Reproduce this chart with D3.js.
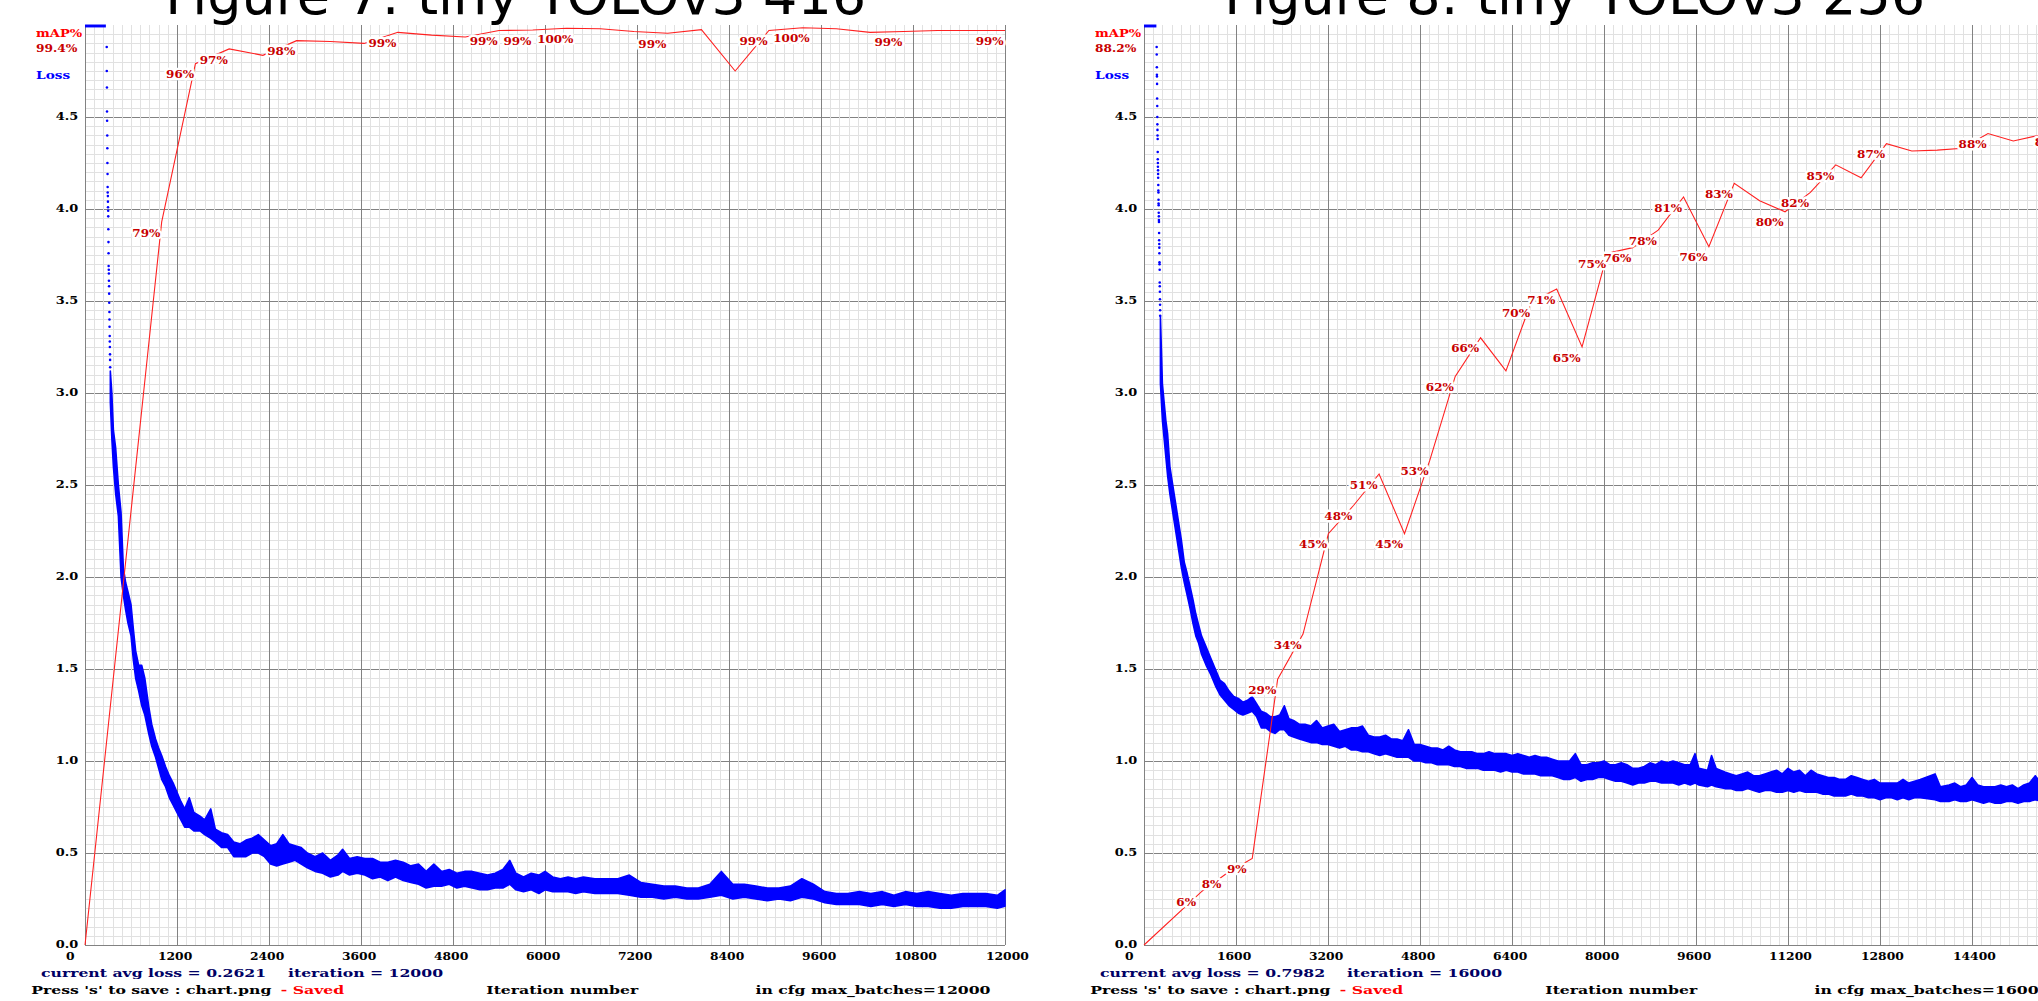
<!DOCTYPE html>
<html>
<head>
<meta charset="utf-8">
<script src="https://cdn.jsdelivr.net/npm/d3@7"></script>
<style>
body { margin: 0; background: #fff; }
svg { display: block; }
.cv { font-family: "DejaVu Serif", serif; font-size: 12px; font-weight: bold; }
</style>
</head>
<body>
<div id="figure"></div>
<script>
const width = 2038
const height = 1001

// ---- Figure 7: tiny YOLOv3 416 ----
const leftTitle = "Figure 7: tiny YOLOv3 416"
const leftMaxBatches = 12000
const leftAvgLoss = "0.2621"
const leftBestMap = "99.4%"
// iterations where avg loss was above the 5.0 chart top (pinned to the top edge)
const leftOverflow = [0, 272]
// first sparse loss dots while the loss falls through the top of the chart
const leftDotIter = [283, 284, 286, 287, 288, 290, 291, 292, 294, 295, 296, 298, 299, 300, 302, 303, 304, 306, 307, 308,
  310, 311, 312, 314, 315, 316, 318, 319, 320, 322, 323, 324, 326, 327, 328]
const leftDotLoss = [4.88, 4.75, 4.66, 4.53, 4.48, 4.40, 4.33, 4.25, 4.19, 4.12, 4.09, 4.07, 4.04, 4.01, 3.99, 3.96, 3.89, 3.82, 3.76, 3.69,
  3.67, 3.65, 3.61, 3.58, 3.54, 3.49, 3.44, 3.40, 3.36, 3.31, 3.28, 3.25, 3.21, 3.18, 3.14]
// dense loss band: iteration, lowest and highest avg loss around it
const leftBandIter = [330, 350, 370, 400, 435, 470, 500, 530, 560, 600,
  630, 660, 700, 740, 780, 830, 870, 920, 960, 1000,
  1050, 1100, 1150, 1200, 1250, 1300, 1360, 1420, 1500, 1560,
  1640, 1700, 1780, 1860, 1940, 2020, 2100, 2180, 2260, 2340,
  2420, 2500, 2580, 2660, 2740, 2820, 2900, 3000, 3100, 3200,
  3300, 3360, 3450, 3550, 3650, 3750, 3850, 3950, 4050, 4150,
  4250, 4350, 4450, 4550, 4650, 4750, 4850, 4950, 5050, 5150,
  5250, 5350, 5450, 5540, 5620, 5720, 5820, 5920, 6000, 6100,
  6200, 6300, 6400, 6500, 6650, 6800, 6950, 7100, 7250, 7400,
  7550, 7700, 7850, 8000, 8150, 8300, 8450, 8600, 8750, 8900,
  9050, 9200, 9350, 9500, 9650, 9800, 9950, 10100, 10250, 10400,
  10550, 10700, 10850, 11000, 11150, 11300, 11450, 11600, 11750, 11900,
  12000]
const leftBandLo = [2.95, 2.75, 2.6, 2.45, 2.33, 2.0, 1.9, 1.82, 1.75, 1.68,
  1.55, 1.45, 1.38, 1.3, 1.25, 1.15, 1.08, 1.02, 0.96, 0.9,
  0.86, 0.8, 0.76, 0.72, 0.68, 0.64, 0.64, 0.62, 0.62, 0.6,
  0.58, 0.56, 0.53, 0.53, 0.48, 0.48, 0.48, 0.5, 0.5, 0.48,
  0.44, 0.43, 0.44, 0.45, 0.46, 0.44, 0.42, 0.4, 0.39, 0.37,
  0.38, 0.4, 0.38, 0.39, 0.38, 0.36, 0.37, 0.35, 0.37, 0.35,
  0.34, 0.33, 0.31, 0.32, 0.32, 0.33, 0.31, 0.32, 0.31, 0.3,
  0.3, 0.31, 0.31, 0.33, 0.3, 0.29, 0.3, 0.28, 0.3, 0.29,
  0.29, 0.29, 0.28, 0.29, 0.28, 0.28, 0.28, 0.27, 0.26, 0.26,
  0.25, 0.26, 0.25, 0.25, 0.26, 0.27, 0.25, 0.26, 0.25, 0.24,
  0.25, 0.24, 0.26, 0.25, 0.23, 0.22, 0.22, 0.22, 0.21, 0.22,
  0.21, 0.22, 0.21, 0.21, 0.2, 0.2, 0.21, 0.21, 0.21, 0.2,
  0.21]
const leftBandHi = [3.12, 3.0, 2.8, 2.7, 2.5, 2.35, 2.05, 1.97, 1.92, 1.85,
  1.72, 1.6, 1.52, 1.52, 1.45, 1.3, 1.2, 1.12, 1.07, 1.03,
  0.97, 0.92, 0.88, 0.83, 0.78, 0.74, 0.8, 0.72, 0.7, 0.68,
  0.74, 0.63, 0.61, 0.6, 0.56, 0.55, 0.57, 0.58, 0.6, 0.57,
  0.54, 0.55, 0.6, 0.55, 0.54, 0.53, 0.5, 0.48, 0.5, 0.46,
  0.49, 0.52, 0.47, 0.48, 0.47, 0.47, 0.45, 0.45, 0.46, 0.45,
  0.43, 0.44, 0.4, 0.44, 0.4, 0.41, 0.39, 0.4, 0.4, 0.39,
  0.38, 0.39, 0.41, 0.46, 0.39, 0.37, 0.39, 0.38, 0.4, 0.37,
  0.36, 0.37, 0.36, 0.37, 0.36, 0.36, 0.36, 0.38, 0.34, 0.33,
  0.32, 0.32, 0.31, 0.31, 0.33, 0.4, 0.33, 0.33, 0.32, 0.31,
  0.31, 0.32, 0.36, 0.33, 0.29, 0.28, 0.28, 0.29, 0.28, 0.29,
  0.27, 0.29, 0.28, 0.29, 0.28, 0.27, 0.28, 0.28, 0.28, 0.27,
  0.3]
// mAP checks (the line starts at the chart origin)
const leftMapIter = [0, 1000, 1440, 1880, 2320, 2760, 3200, 3640, 4080, 4520, 4960, 5400, 5840, 6280,
  6720, 7160, 7600, 8040, 8480, 8920, 9360, 9800, 10240, 10680, 11120, 11560, 12000]
const leftMap = [0, 0.786, 0.958, 0.974, 0.967, 0.983, 0.982, 0.980, 0.992, 0.989, 0.987, 0.994, 0.9945, 0.9965,
  0.996, 0.993, 0.991, 0.995, 0.950, 0.994, 0.997, 0.996, 0.992, 0.993, 0.994, 0.994, 0.994]
const leftMapLabelIter = [1000, 1440, 1880, 2760, 4080, 5400, 5840, 6280, 7600, 8920, 9360, 10680, 12000]

// ---- Figure 8: tiny YOLOv3 256 ----
const rightTitle = "Figure 8: tiny YOLOv3 256"
const rightMaxBatches = 16000
const rightAvgLoss = "0.7982"
const rightBestMap = "88.2%"
const rightOverflow = [0, 215]
const rightDotIter = [220, 221, 223, 224, 225, 227, 228, 230, 231, 232, 234, 235, 237, 238, 239,
  241, 242, 244, 245, 246, 248, 249, 251, 252, 253, 255, 256, 258, 259, 260,
  262, 263, 265, 266, 267, 269, 270, 272, 273, 274, 276, 277, 279, 280, 281]
const rightDotLoss = [4.88, 4.84, 4.77, 4.73, 4.72, 4.68, 4.60, 4.56, 4.50, 4.46, 4.43, 4.40, 4.38, 4.31, 4.27,
  4.25, 4.23, 4.21, 4.19, 4.17, 4.13, 4.10, 4.09, 4.05, 4.03, 4.02, 3.98, 3.96, 3.94, 3.93,
  3.87, 3.83, 3.81, 3.79, 3.76, 3.71, 3.70, 3.67, 3.60, 3.58, 3.55, 3.51, 3.48, 3.45, 3.42]
const rightBandIter = [285, 320, 350, 380, 410, 450, 500, 550, 600, 650,
  700, 750, 800, 850, 900, 950, 1000, 1080, 1160, 1240,
  1320, 1400, 1480, 1560, 1640, 1720, 1800, 1880, 1960, 2040,
  2120, 2200, 2280, 2360, 2440, 2520, 2600, 2700, 2800, 2900,
  3000, 3100, 3200, 3300, 3400, 3500, 3600, 3700, 3800, 3900,
  4000, 4100, 4200, 4300, 4400, 4500, 4600, 4700, 4800, 4900,
  5000, 5100, 5200, 5300, 5400, 5500, 5600, 5700, 5800, 5900,
  6000, 6100, 6200, 6300, 6400, 6500, 6600, 6700, 6800, 6900,
  7000, 7100, 7200, 7300, 7400, 7500, 7600, 7700, 7800, 7900,
  8000, 8100, 8200, 8300, 8400, 8500, 8600, 8700, 8800, 8900,
  9000, 9100, 9200, 9300, 9400, 9500, 9583, 9650, 9800, 9870,
  9950, 10100, 10200, 10300, 10400, 10500, 10600, 10700, 10800, 10900,
  11000, 11100, 11200, 11300, 11400, 11500, 11600, 11700, 11800, 11900,
  12000, 12100, 12200, 12300, 12400, 12500, 12600, 12700, 12800, 12900,
  13000, 13100, 13200, 13300, 13400, 13500, 13757, 13850, 14000, 14100,
  14200, 14300, 14400, 14500, 14600, 14700, 14800, 14900, 15000, 15100,
  15200, 15300, 15400, 15500, 15600, 15800, 16000]
const rightBandLo = [3.05, 2.85, 2.75, 2.65, 2.55, 2.45, 2.35, 2.25, 2.15, 2.05,
  1.97, 1.9, 1.83, 1.75, 1.68, 1.64, 1.58, 1.52, 1.47, 1.41,
  1.36, 1.33, 1.3, 1.28, 1.26, 1.25, 1.26, 1.27, 1.24, 1.18,
  1.18, 1.16, 1.15, 1.17, 1.17, 1.14, 1.13, 1.12, 1.11, 1.1,
  1.1, 1.09, 1.09, 1.08, 1.07, 1.08, 1.06, 1.06, 1.05, 1.05,
  1.04, 1.03, 1.04, 1.03, 1.02, 1.02, 1.02, 1.0, 1.0, 0.99,
  0.99, 0.98, 0.98, 0.98, 0.97, 0.97, 0.96, 0.96, 0.96, 0.95,
  0.95, 0.95, 0.94, 0.95, 0.94, 0.94, 0.93, 0.93, 0.93, 0.92,
  0.92, 0.92, 0.91, 0.9, 0.9, 0.91, 0.89, 0.9, 0.9, 0.91,
  0.91, 0.9, 0.89, 0.89, 0.88, 0.87, 0.88, 0.88, 0.89, 0.89,
  0.88, 0.88, 0.88, 0.87, 0.88, 0.87, 0.88, 0.87, 0.86, 0.87,
  0.86, 0.85, 0.85, 0.84, 0.84, 0.85, 0.84, 0.83, 0.84, 0.84,
  0.83, 0.83, 0.84, 0.83, 0.84, 0.83, 0.83, 0.83, 0.82, 0.82,
  0.81, 0.81, 0.81, 0.82, 0.81, 0.81, 0.8, 0.8, 0.79, 0.8,
  0.8, 0.79, 0.8, 0.79, 0.8, 0.8, 0.79, 0.78, 0.78, 0.79,
  0.78, 0.78, 0.79, 0.78, 0.77, 0.78, 0.77, 0.77, 0.78, 0.78,
  0.77, 0.78, 0.78, 0.79, 0.78, 0.78, 0.79]
const rightBandHi = [3.42, 3.05, 2.95, 2.85, 2.78, 2.6, 2.5, 2.4, 2.3, 2.2,
  2.08, 2.02, 1.95, 1.88, 1.8, 1.74, 1.68, 1.62, 1.56, 1.5,
  1.44, 1.42, 1.38, 1.35, 1.34, 1.32, 1.33, 1.35, 1.31, 1.27,
  1.26, 1.24, 1.24, 1.25, 1.3, 1.23, 1.22, 1.2, 1.2, 1.19,
  1.22, 1.18, 1.19, 1.2, 1.16, 1.17, 1.18, 1.18, 1.19, 1.14,
  1.13, 1.13, 1.14, 1.12, 1.12, 1.11, 1.17, 1.09, 1.09, 1.08,
  1.07, 1.07, 1.06, 1.08, 1.06, 1.05, 1.05, 1.05, 1.04, 1.04,
  1.05, 1.04, 1.04, 1.04, 1.03, 1.04, 1.03, 1.02, 1.03, 1.02,
  1.02, 1.01, 1.0, 1.0, 1.0, 1.04, 0.98, 0.98, 0.99, 0.99,
  1.0, 0.98, 0.98, 0.99, 0.98, 0.96, 0.96, 0.97, 0.99, 0.98,
  1.0, 0.99, 1.0, 0.99, 0.98, 0.98, 1.04, 0.96, 0.95, 1.03,
  0.96, 0.94, 0.93, 0.92, 0.93, 0.94, 0.92, 0.92, 0.93, 0.94,
  0.95, 0.93, 0.96, 0.94, 0.95, 0.92, 0.95, 0.93, 0.92, 0.91,
  0.91, 0.9, 0.9, 0.92, 0.91, 0.9, 0.89, 0.9, 0.88, 0.88,
  0.88, 0.88, 0.9, 0.88, 0.89, 0.9, 0.93, 0.86, 0.87, 0.88,
  0.86, 0.87, 0.91, 0.87, 0.86, 0.86, 0.86, 0.87, 0.86, 0.87,
  0.85, 0.87, 0.88, 0.92, 0.88, 0.87, 0.86]
const rightMapIter = [0, 1000, 1441, 1882, 2324, 2765, 3206, 3647, 4088, 4530, 4971, 5412, 5853, 6294,
  6736, 7177, 7618, 8059, 8500, 8942, 9383, 9824, 10265, 10706, 11148, 11589, 12030, 12471,
  12912, 13353, 13795, 14236, 14677, 15118, 15559, 16000]
const rightMap = [0, 0.058, 0.078, 0.094, 0.289, 0.338, 0.447, 0.478, 0.512, 0.447, 0.527, 0.618, 0.660, 0.624,
  0.699, 0.713, 0.650, 0.752, 0.758, 0.777, 0.813, 0.759, 0.828, 0.809, 0.797, 0.818, 0.848, 0.834,
  0.871, 0.863, 0.864, 0.866, 0.882, 0.874, 0.880, 0.884]
const rightMapLabelIter = [1000, 1441, 1882, 2324, 2765, 3206, 3647, 4088, 4530, 4971, 5412, 5853,
  6736, 7177, 7618, 8059, 8500, 8942, 9383, 9824, 10265, 11148, 11589, 12030, 12912, 14677, 16000]

// darknet chart.png geometry (1000px image, 60px offset), scaled into the figure
const imgSize = 1000
const imgOffset = 60
const drawSize = imgSize - imgOffset
const nLines = 100
const figScale = 920 / drawSize

const svg = d3.select("#figure").append("svg").attr("width", width).attr("height", height)
svg.append("rect").attr("width", width).attr("height", height).attr("fill", "#fff")

drawChart({
  left: 26.3, top: 25, title: leftTitle, maxBatches: leftMaxBatches, avgLoss: leftAvgLoss, bestMap: leftBestMap,
  overflow: leftOverflow, dotIter: leftDotIter, dotLoss: leftDotLoss,
  bandIter: leftBandIter, bandLo: leftBandLo, bandHi: leftBandHi,
  mapIter: leftMapIter, map: leftMap, labelIter: leftMapLabelIter
})
drawChart({
  left: 1085.3, top: 25, title: rightTitle, maxBatches: rightMaxBatches, avgLoss: rightAvgLoss, bestMap: rightBestMap,
  overflow: rightOverflow, dotIter: rightDotIter, dotLoss: rightDotLoss,
  bandIter: rightBandIter, bandLo: rightBandLo, bandHi: rightBandHi,
  mapIter: rightMapIter, map: rightMap, labelIter: rightMapLabelIter
})

// the chart font is wide: widen each text by k
function widen(sel, k) {
  sel.each(function () {
    const w = this.getComputedTextLength()
    d3.select(this).attr("textLength", w * k).attr("lengthAdjust", "spacingAndGlyphs")
  })
  return sel
}

function drawChart(c) {
  const maxLoss = 5
  const g = svg.append("g").attr("transform", `translate(${c.left},${c.top}) scale(${figScale})`)
  const x = d3.scaleLinear().domain([0, c.maxBatches]).range([imgOffset, imgSize])
  const yLoss = d3.scaleLinear().domain([0, maxLoss]).range([drawSize, 0]).clamp(true)
  const yMap = d3.scaleLinear().domain([0, 1]).range([drawSize, 0])

  // grid: horizontal lines first, then vertical ones (same order as darknet)
  const lossMinor = d3.range(1, nLines + 1).map(i => maxLoss * (nLines - i) / nLines)
  const lossMajor = lossMinor.filter((d, i) => (i + 1) % 10 === 0)
  const iterMinor = d3.range(0, nLines + 1).map(i => c.maxBatches * i / nLines)
  const iterMajor = iterMinor.filter((d, i) => i % 10 === 0)

  const gridY = vals => g.append("g")
    .attr("transform", `translate(${imgOffset},0)`)
    .call(d3.axisLeft(yLoss).tickValues(vals).tickSize(-(imgSize - imgOffset)).tickSizeOuter(0).tickFormat(d3.format(".1f")))
  const gridX = vals => g.append("g")
    .attr("transform", `translate(0,${drawSize})`)
    .call(d3.axisBottom(x).tickValues(vals).tickSize(-drawSize).tickSizeOuter(0).tickFormat(d3.format("d")))

  const ym = gridY(lossMinor)
  ym.selectAll("text").remove()
  const yM = gridY(lossMajor)
  const xm = gridX(iterMinor)
  xm.selectAll("text").remove()
  const xM = gridX(iterMajor)
  ;[ym, yM, xm, xM].forEach(a => {
    a.select(".domain").remove()
    a.attr("font-family", null).attr("font-size", null)
    a.selectAll("line").attr("stroke-width", 1).attr("shape-rendering", "crispEdges")
  })
  ym.selectAll("line").attr("stroke", "#e0e0e0")
  xm.selectAll("line").attr("stroke", "#e0e0e0")
  yM.selectAll("line").attr("stroke", "#808080")
  xM.selectAll("line").attr("stroke", "#808080")
  widen(yM.selectAll("text").attr("class", "cv").attr("fill", "#000")
    .attr("text-anchor", "start").attr("x", 30 - imgOffset).attr("dy", null).attr("y", 3), 1.1)
  widen(xM.selectAll("text").attr("class", "cv").attr("fill", "#000")
    .attr("text-anchor", "start").attr("x", -20).attr("dy", null).attr("y", 15), 1.05)

  // loss: values above the top are pinned to y = 1
  g.append("line")
    .attr("x1", x(c.overflow[0])).attr("x2", x(c.overflow[1]))
    .attr("y1", 1).attr("y2", 1)
    .attr("stroke", "#0000ff").attr("stroke-width", 3)
  g.append("g").selectAll("circle").data(d3.range(c.dotIter.length)).join("circle")
    .attr("cx", i => x(c.dotIter[i])).attr("cy", i => yLoss(c.dotLoss[i]))
    .attr("r", 1.3).attr("fill", "#0000ff")
  const band = d3.area()
    .x(i => x(c.bandIter[i]))
    .y0(i => yLoss(c.bandLo[i]))
    .y1(i => yLoss(c.bandHi[i]))
  g.append("path").datum(d3.range(c.bandIter.length))
    .attr("d", band)
    .attr("fill", "#0000ff").attr("stroke", "#0000ff").attr("stroke-width", 1.6)
    .attr("stroke-linejoin", "round")

  // mAP line and labels
  const mapLine = d3.line().x(i => x(c.mapIter[i])).y(i => yMap(c.map[i]))
  g.append("path").datum(d3.range(c.mapIter.length))
    .attr("d", mapLine)
    .attr("fill", "none").attr("stroke", "#ff2020").attr("stroke-width", 1.1)
  const labelled = d3.range(c.mapIter.length).filter(i => c.labelIter.includes(c.mapIter[i]))
  const labels = g.append("g").selectAll("text").data(labelled).join("text")
    .attr("class", "cv")
    .attr("x", i => x(c.mapIter[i]) - 30)
    .attr("y", i => yMap(c.map[i]) + 15)
    .attr("fill", "rgb(200,0,0)")
    .attr("stroke", "#fff").attr("stroke-width", 5).attr("stroke-linejoin", "round")
    .attr("paint-order", "stroke")
    .attr("xml:space", "preserve")
    .text(i => String(Math.round(c.map[i] * 100)).padStart(2, " ") + "%")
  widen(labels, 1.02)

  // legend texts at the top left
  const txt = (s, tx, ty, color, k) => widen(g.append("text").attr("class", "cv")
    .attr("x", tx).attr("y", ty).attr("fill", color).attr("xml:space", "preserve").text(s), k)
  txt("mAP%", 10, 12, "rgb(255,0,0)", 1.11)
  txt(c.bestMap, 10, 28, "rgb(200,0,0)", 1.04)
    .attr("stroke", "#fff").attr("stroke-width", 5).attr("stroke-linejoin", "round").attr("paint-order", "stroke")
  txt("Loss", 10, 55, "rgb(0,0,255)", 1.16)

  // status lines below the chart
  txt(`current avg loss = ${c.avgLoss}    iteration = ${c.maxBatches}`, 15, drawSize + 33, "rgb(0,0,100)", 1.335)
  txt("Press 's' to save : chart.png", 5, imgSize - 10, "#000", 1.335)
  txt("- Saved", 260, imgSize - 10, "rgb(255,0,0)", 1.335)
  txt("Iteration number", drawSize / 2, imgSize - 10, "#000", 1.335)
  txt(`in cfg max_batches=${c.maxBatches}`, drawSize - 195, imgSize - 10, "#000", 1.335)

  // figure caption above, mostly cut off by the page top
  svg.append("text")
    .attr("x", c.left + imgSize * figScale / 2).attr("y", 14)
    .attr("text-anchor", "middle")
    .attr("font-family", "DejaVu Sans, sans-serif").attr("font-size", 54)
    .attr("fill", "#000")
    .text(c.title)
}
</script>
</body>
</html>
